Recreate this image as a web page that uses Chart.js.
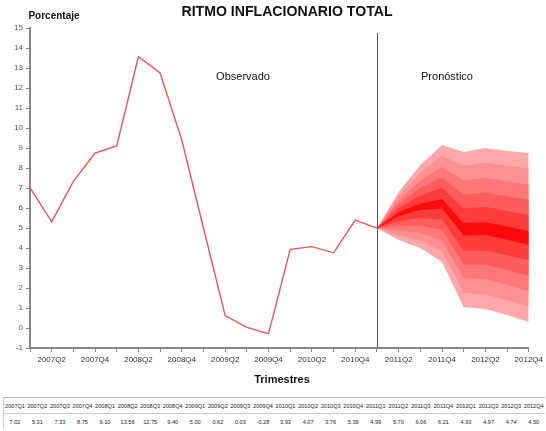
<!DOCTYPE html>
<html><head><meta charset="utf-8">
<script src="https://cdn.jsdelivr.net/npm/chart.js@4"></script>
<style>
html,body{margin:0;padding:0;background:#fff;}
#wrap{position:relative;width:546px;height:431px;overflow:hidden;}
canvas{position:absolute;left:0;top:0;}
table{position:absolute;left:3px;top:397px;width:542px;border-collapse:collapse;table-layout:fixed;font-family:"Liberation Sans",Arial,sans-serif;font-size:5.6px;color:#222;}
td{border-top:1px solid #ccc;text-align:center;padding:0;height:15px;white-space:nowrap;overflow:hidden;}
tr:first-child td{border-top:1px solid #bbb;}
table{border-left:1px solid #ccc;}
</style></head>
<body><div id="wrap"><canvas id="c" width="546" height="392"></canvas>
<table id="t"><tr id="r1"></tr><tr id="r2"></tr></table></div>
<script>
const quarters = ["2007Q1","2007Q2","2007Q3","2007Q4","2008Q1","2008Q2","2008Q3","2008Q4","2009Q1","2009Q2","2009Q3","2009Q4","2010Q1","2010Q2","2010Q3","2010Q4","2011Q1","2011Q2","2011Q3","2011Q4","2012Q1","2012Q2","2012Q3","2012Q4"];
const tableValues = ["7.02","5.31","7.33","8.75","9.10","13.56","12.75","9.40","5.00","0.62","0.03","-0.28","3.93","4.07","3.76","5.39","4.99","5.70","6.06","6.21","4.93","4.97","4.74","4.50"];
const observed = [7.02,5.31,7.33,8.75,9.10,13.56,12.75,9.40,5.00,0.62,0.03,-0.28,3.93,4.07,3.76,5.39,4.99];
const forecastStart = 16;
// fan band edges, 2011Q1..2012Q4, inner to outer
const upper1 = [4.99,5.79,6.23,6.45,5.24,5.29,5.07,4.84];
const lower1 = [4.99,5.60,5.90,5.98,4.62,4.65,4.41,4.16];
const upper2 = [4.99,6.00,6.62,7.00,5.97,6.06,5.85,5.65];
const lower2 = [4.99,5.35,5.50,5.42,3.88,3.88,3.64,3.37];
const upper3 = [4.99,6.20,7.00,7.53,6.67,6.78,6.59,6.41];
const lower3 = [4.99,5.12,5.13,4.90,3.18,3.16,2.90,2.61];
const upper4 = [4.99,6.39,7.38,8.06,7.37,7.51,7.33,7.18];
const lower4 = [4.99,4.88,4.76,4.38,2.49,2.44,2.16,1.85];
const upper5 = [4.99,6.60,7.77,8.62,8.10,8.27,8.11,7.99];
const lower5 = [4.99,4.63,4.37,3.82,1.75,1.67,1.39,1.06];
const upper6 = [4.99,6.80,8.15,9.15,8.80,9.00,8.85,8.75];
const lower6 = [4.99,4.40,4.00,3.30,1.05,0.95,0.65,0.30];
const yTicks = [-1,0,1,2,3,4,5,6,7,8,9,10,11,12,13,14,15];

const bandUppers=[upper1,upper2,upper3,upper4,upper5,upper6];
const bandLowers=[lower1,lower2,lower3,lower4,lower5,lower6];
const bandColors=['#ff0a0a','#ff3c3c','#ff5c5c','#ff7878','#fd9191','#fca8a8'];

function pad(arr){const a=new Array(forecastStart).fill(null);return a.concat(arr);}

const datasets=[{label:'Observado',data:observed,borderColor:'#e8575c',borderWidth:1.4,pointRadius:0,fill:false,tension:0}];
bandUppers.forEach((u,i)=>{
  const idx=datasets.length;
  datasets.push({data:pad(u),borderWidth:0,borderColor:bandColors[i],backgroundColor:bandColors[i],pointRadius:0,fill:{target:idx+1},tension:0});
  datasets.push({data:pad(bandLowers[i]),borderWidth:0,borderColor:bandColors[i],pointRadius:0,fill:false,tension:0});
});

const r1=document.getElementById('r1'),r2=document.getElementById('r2');
quarters.forEach((q,i)=>{const a=document.createElement('td');a.textContent=q;r1.appendChild(a);const b=document.createElement('td');b.textContent=tableValues[i];r2.appendChild(b);});

const SANS='"Liberation Sans",Arial,sans-serif';

const textPlugin={id:'texts',afterDraw(chart){
  const ctx=chart.ctx, xs=chart.scales.x, ca=chart.chartArea;
  ctx.save();
  const vx=xs.getPixelForValue(forecastStart);
  ctx.strokeStyle='#555';ctx.lineWidth=1;
  ctx.beginPath();ctx.moveTo(Math.round(vx)+0.5,33);ctx.lineTo(Math.round(vx)+0.5,ca.bottom);ctx.stroke();
  ctx.fillStyle='#111';ctx.textAlign='center';ctx.textBaseline='middle';
  ctx.font='bold 15px '+SANS;
  ctx.fillText('RITMO INFLACIONARIO TOTAL',287,12,211);
  ctx.font='bold 10px '+SANS;
  ctx.fillText('Porcentaje',54,16);
  ctx.font='11px '+SANS;
  ctx.fillText('Observado',243,77);
  ctx.fillText('Pronóstico',447,77);
  ctx.font='bold 11px '+SANS;
  ctx.fillText('Trimestres',282,380);
  ctx.restore();
}};

new Chart(document.getElementById('c'),{
  type:'line',
  data:{labels:quarters,datasets:datasets},
  options:{
    responsive:false,animation:false,
    layout:{padding:{top:28,right:16,left:0,bottom:0}},
    plugins:{legend:{display:false},tooltip:{enabled:false},title:{display:false}},
    scales:{
      x:{type:'category',offset:false,
        afterFit(s){s.height=44;},
        border:{color:'#888',width:2},
        grid:{display:true,drawOnChartArea:false,drawTicks:true,tickLength:4,color:'#888'},
        ticks:{autoSkip:false,maxRotation:0,minRotation:0,color:'#333',padding:3,font:{size:8,family:SANS}},
        afterTickToLabelConversion(s){s.ticks.forEach((t,i)=>{t.label=i%2===1?quarters[i]:'';});}
      },
      y:{min:-1,max:15,
        afterFit(s){s.width=30;},
        afterBuildTicks(s){s.ticks=yTicks.map(v=>({value:v}));},
        border:{color:'#888',width:2},
        grid:{display:true,drawOnChartArea:false,drawTicks:true,tickLength:4,color:'#888'},
        ticks:{color:'#555',padding:3,font:{size:8,family:SANS}}
      }
    }
  },
  plugins:[textPlugin]
});
</script></body></html>
